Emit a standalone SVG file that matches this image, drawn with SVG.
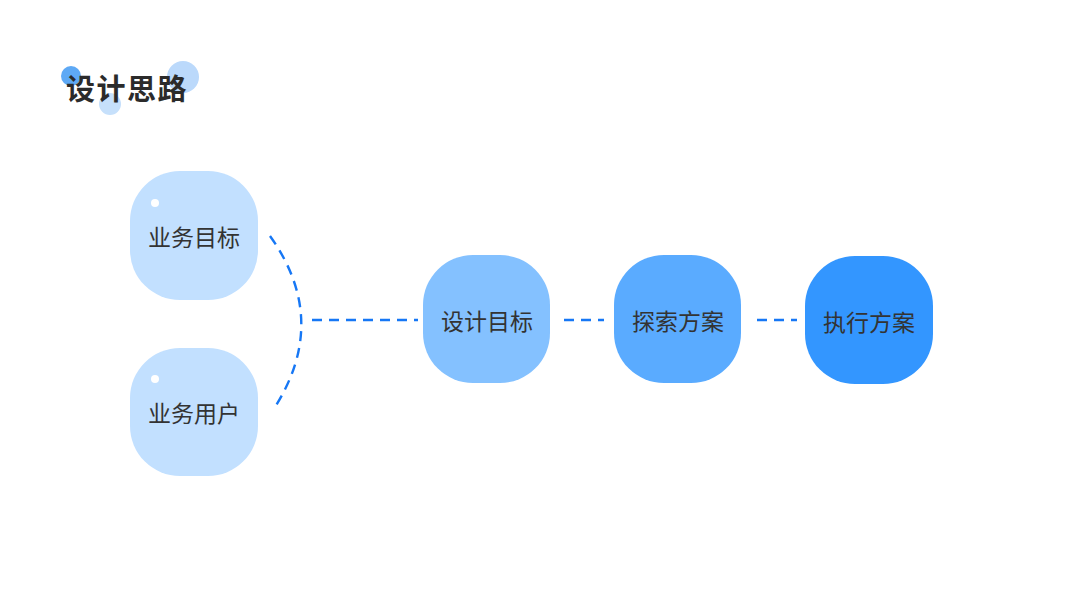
<svg xmlns="http://www.w3.org/2000/svg" width="1067" height="600" viewBox="0 0 1067 600">
<style>
.lbl{font-family:"Noto Sans CJK SC","Noto Sans",sans-serif;font-size:23px;fill:#333;text-anchor:middle}
.title{font-family:"Noto Sans CJK SC","Noto Sans",sans-serif;font-size:29px;font-weight:bold;fill:#2b2b2b;letter-spacing:1.5px}
.dash{fill:none;stroke:#1677f5;stroke-width:2.4;stroke-dasharray:10 7}
.dot{fill:#fff}
</style>
<rect width="1067" height="600" fill="#fff"/>
<g id="title">
<circle cx="71" cy="76" r="10" fill="#5ea9f5"/>
<circle cx="183" cy="77" r="16" fill="#bbd9fb"/>
<circle cx="110" cy="104" r="11" fill="#c6e0fb"/>
<text class="title" x="66" y="100">设计思路</text>
</g>
<g id="connectors">
<path class="dash" d="M270,236 Q330,320 275,407"/>
<line class="dash" x1="312" y1="320" x2="418" y2="320"/>
<line class="dash" x1="564" y1="320" x2="604" y2="320"/>
<line class="dash" x1="757" y1="320" x2="797" y2="320"/>
</g>
<g id="node-yewu-mubiao">
<rect x="130" y="171" width="128" height="129" rx="50" fill="#c2e0ff"/>
<circle class="dot" cx="155" cy="203" r="4"/>
<text class="lbl" x="194" y="246">业务目标</text>
</g>
<g id="node-yewu-yonghu">
<rect x="130" y="348" width="128" height="128" rx="50" fill="#c2e0ff"/>
<circle class="dot" cx="155" cy="379" r="4"/>
<text class="lbl" x="194" y="422">业务用户</text>
</g>
<g id="node-sheji-mubiao">
<rect x="423" y="255" width="127" height="128" rx="50" fill="#84c1ff"/>
<text class="lbl" x="487" y="330">设计目标</text>
</g>
<g id="node-tansuo">
<rect x="614" y="255" width="127" height="128" rx="50" fill="#5aabff"/>
<text class="lbl" x="678" y="330">探索方案</text>
</g>
<g id="node-zhixing">
<rect x="805" y="256" width="128" height="128" rx="50" fill="#3396ff"/>
<text class="lbl" x="869" y="331">执行方案</text>
</g>
</svg>
